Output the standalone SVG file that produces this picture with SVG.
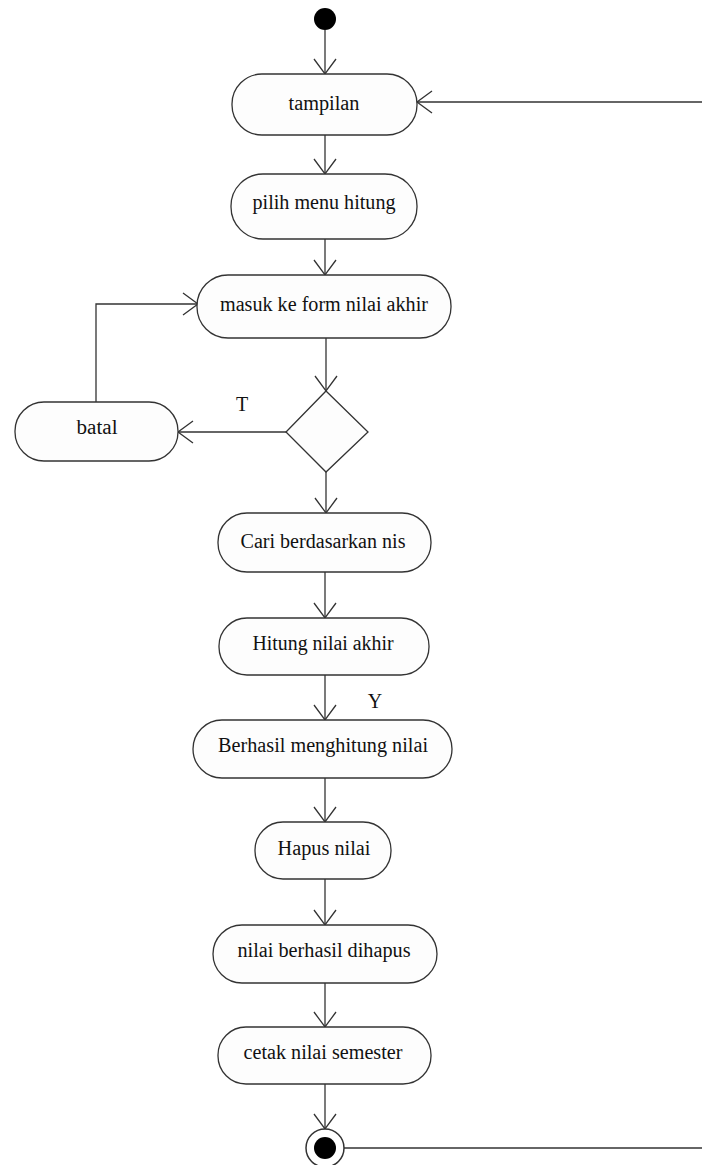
<svg xmlns="http://www.w3.org/2000/svg" width="702" height="1165" viewBox="0 0 702 1165">
<style>
.node rect, .node polygon { fill: #fdfdfd; stroke: #333; stroke-width: 1.3; }
.lbl { font-family: "Liberation Serif", "Times New Roman", serif; font-size: 20px; fill: #111; text-anchor: middle; }
.conn line, .conn polyline { fill: none; stroke: #333; stroke-width: 1.3; }
</style>
<defs>
<marker id="arr" markerUnits="userSpaceOnUse" markerWidth="20" markerHeight="26" refX="16" refY="12" orient="auto" viewBox="0 0 20 24">
<path d="M1,1 L16,12 L1,23" fill="none" stroke="#333" stroke-width="1.3"/>
</marker>
</defs>
<rect width="702" height="1165" fill="#ffffff"/>
<g id="connectors" class="conn">
<line x1="325" y1="30" x2="325" y2="74" marker-end="url(#arr)"/>
<line x1="325" y1="135" x2="325" y2="174" marker-end="url(#arr)"/>
<line x1="325" y1="239" x2="325" y2="275" marker-end="url(#arr)"/>
<line x1="326" y1="338" x2="326" y2="391" marker-end="url(#arr)"/>
<line x1="286" y1="432" x2="178" y2="432" marker-end="url(#arr)"/>
<polyline points="96,402 96,304 198,304" marker-end="url(#arr)"/>
<line x1="326" y1="472" x2="326" y2="513" marker-end="url(#arr)"/>
<line x1="325" y1="572" x2="325" y2="618" marker-end="url(#arr)"/>
<line x1="325" y1="675" x2="325" y2="720" marker-end="url(#arr)"/>
<line x1="325" y1="778" x2="325" y2="822" marker-end="url(#arr)"/>
<line x1="325" y1="879" x2="325" y2="925" marker-end="url(#arr)"/>
<line x1="325" y1="983" x2="325" y2="1027" marker-end="url(#arr)"/>
<line x1="325" y1="1084" x2="325" y2="1129" marker-end="url(#arr)"/>
<line x1="344" y1="1148" x2="702" y2="1148"/>
<line x1="702" y1="102" x2="417" y2="102" marker-end="url(#arr)"/>
<text class="lbl" x="242" y="411">T</text>
<text class="lbl" x="375" y="708">Y</text>
</g>
<g id="start"><circle cx="325" cy="19" r="11" fill="#000"/></g>
<g id="tampilan" class="node"><rect x="232" y="74" width="185" height="61" rx="30" ry="30"/><text class="lbl" x="324" y="110" textLength="71" lengthAdjust="spacingAndGlyphs">tampilan</text></g>
<g id="pilih" class="node"><rect x="231" y="174" width="186" height="65" rx="32" ry="32"/><text class="lbl" x="324" y="209" textLength="143" lengthAdjust="spacingAndGlyphs">pilih menu hitung</text></g>
<g id="masuk" class="node"><rect x="197" y="275" width="254" height="63" rx="31" ry="31"/><text class="lbl" x="324" y="311" textLength="208" lengthAdjust="spacingAndGlyphs">masuk ke form nilai akhir</text></g>
<g id="decision" class="node"><polygon points="326,391 368,432 326,472 286,432"/></g>
<g id="batal" class="node"><rect x="15" y="402" width="163" height="59" rx="29" ry="29"/><text class="lbl" x="97" y="434" textLength="41" lengthAdjust="spacingAndGlyphs">batal</text></g>
<g id="cari" class="node"><rect x="218" y="513" width="213" height="59" rx="29" ry="29"/><text class="lbl" x="323" y="548" textLength="165" lengthAdjust="spacingAndGlyphs">Cari berdasarkan nis</text></g>
<g id="hitung" class="node"><rect x="219" y="618" width="210" height="57" rx="28" ry="28"/><text class="lbl" x="323" y="650" textLength="141" lengthAdjust="spacingAndGlyphs">Hitung nilai akhir</text></g>
<g id="berhasil" class="node"><rect x="193" y="720" width="259" height="58" rx="29" ry="29"/><text class="lbl" x="323" y="752" textLength="210" lengthAdjust="spacingAndGlyphs">Berhasil menghitung nilai</text></g>
<g id="hapus" class="node"><rect x="255" y="822" width="136" height="57" rx="28" ry="28"/><text class="lbl" x="324" y="855" textLength="93" lengthAdjust="spacingAndGlyphs">Hapus nilai</text></g>
<g id="dihapus" class="node"><rect x="213" y="925" width="224" height="58" rx="29" ry="29"/><text class="lbl" x="324" y="957" textLength="173" lengthAdjust="spacingAndGlyphs">nilai berhasil dihapus</text></g>
<g id="cetak" class="node"><rect x="218" y="1027" width="213" height="57" rx="28" ry="28"/><text class="lbl" x="323" y="1059" textLength="159" lengthAdjust="spacingAndGlyphs">cetak nilai semester</text></g>
<g id="end"><circle cx="325" cy="1148" r="19" fill="#fff" stroke="#333" stroke-width="1.5"/><circle cx="325" cy="1148" r="11" fill="#000"/></g>
</svg>
